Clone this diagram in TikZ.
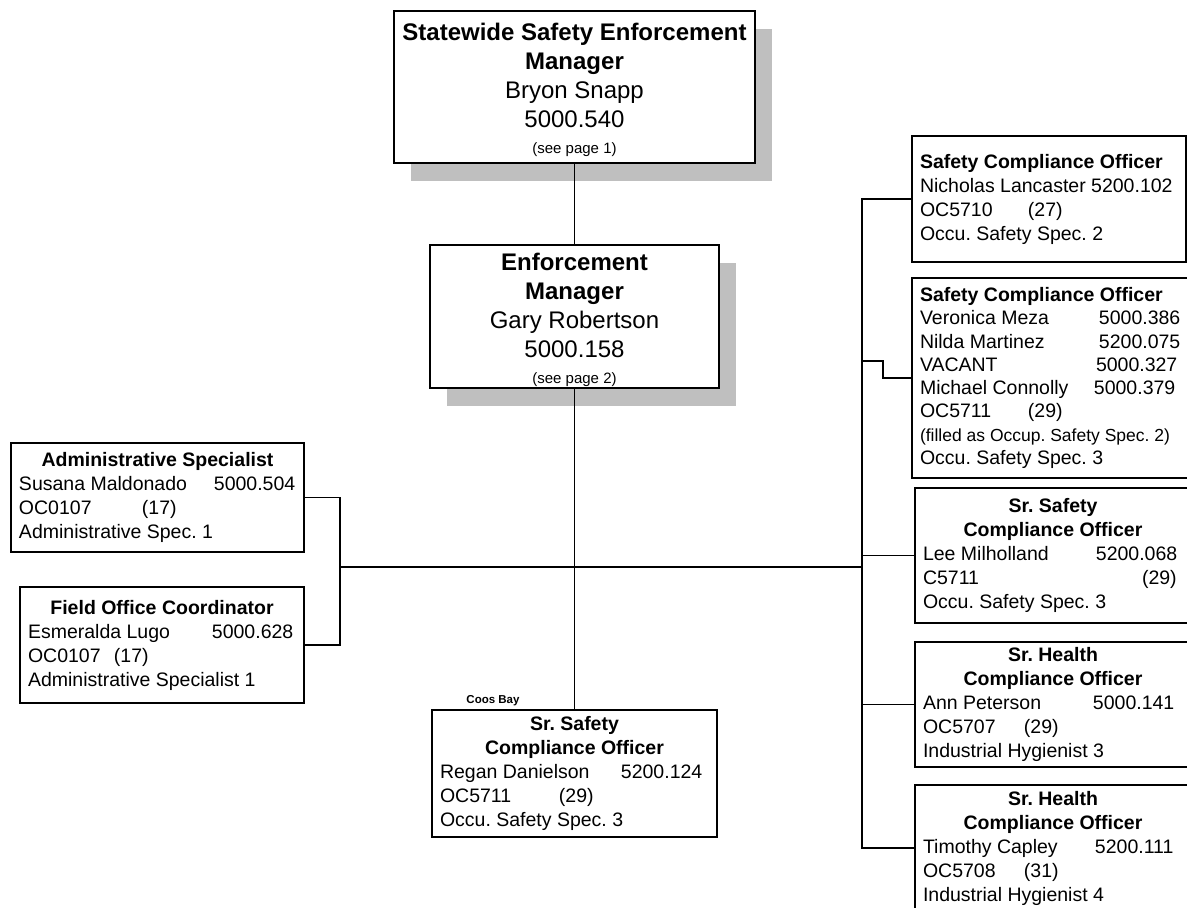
\documentclass[tikz,border=0pt]{standalone}
\usepackage{fontspec}
\setmainfont{Liberation Sans}
\usetikzlibrary{shadows}

\newcommand{\lcol}[2]{\makebox[#1pt][l]{#2}}
\newcommand{\lrow}[1]{\makebox[\hsize][l]{#1}}

\begin{document}
\begin{tikzpicture}[x=1pt, y=-1pt, line width=1.6pt]

    %--- Page frame
    \useasboundingbox (0,0) rectangle (1187,908);
    \clip (0,0) rectangle (1187,908);

    %--- Base styles for all boxes:
    \tikzstyle{post box}=[draw, line width=2pt, fill=white, anchor=north west, inner xsep=8pt, inner ysep=0pt, align=flush center, font=\frenchspacing\fontsize{19.5}{24}\selectfont]
    \tikzstyle{head box}=[post box, inner xsep=3pt, font=\frenchspacing\fontsize{24}{29}\selectfont, general shadow={fill=black!25, shadow xshift=17pt, shadow yshift=-18pt}]

    %--- Managers
    \node[head box, text width=355pt, minimum height=152pt] (SSEM) at (393,10)
        {\rule{0pt}{23.5pt}\textbf{Statewide Safety Enforcement}\\ \textbf{Manager}\\ Bryon Snapp\\ 5000.540\\[-3pt] {\fontsize{15}{18}\selectfont (see page 1)}};
    \node[head box, text width=283pt, minimum height=143pt] (EM) at (429,244)
        {\rule{0pt}{23.5pt}\textbf{Enforcement}\\ \textbf{Manager}\\ Gary Robertson\\ 5000.158\\[-3pt] {\fontsize{15}{18}\selectfont (see page 2)}};

    %--- Left staff
    \node[post box, text width=277pt, minimum height=109pt] (AS) at (10,442)
        {\textbf{Administrative Specialist}\\ \lrow{\lcol{195}{Susana Maldonado}5000.504}\\ \lrow{\lcol{123}{OC0107}(17)}\\ \lrow{Administrative Spec. 1}};
    \node[post box, text width=268pt, minimum height=116pt] (FOC) at (19,586)
        {\textbf{Field Office Coordinator}\\ \lrow{\lcol{184}{Esmeralda Lugo}5000.628}\\ \lrow{\lcol{86}{OC0107}(17)}\\ \lrow{Administrative Specialist 1}};

    %--- Coos Bay
    \node[font=\fontsize{11.5}{13}\selectfont\bfseries] (CBlbl) at (493,701) {Coos Bay};
    \node[post box, text width=269pt, minimum height=127pt] (SSCO) at (431,709)
        {\textbf{Sr. Safety}\\ \textbf{Compliance Officer}\\ \lrow{\lcol{181}{Regan Danielson}5200.124}\\ \lrow{\lcol{119}{OC5711}(29)}\\ \lrow{Occu. Safety Spec. 3}};

    %--- Right staff
    \node[post box, align=flush left, text width=258pt, minimum height=126pt] (SCO1) at (911,135)
        {\textbf{Safety Compliance Officer}\\ Nicholas Lancaster 5200.102\\ \lcol{108}{OC5710}(27)\\ Occu. Safety Spec. 2};
    \node[post box, align=flush left, text width=263pt, minimum height=200pt, font=\frenchspacing\fontsize{19.5}{23.3}\selectfont] (SCO2) at (911,277)
        {\textbf{Safety Compliance Officer}\\ \lcol{179}{Veronica Meza}5000.386\\ \lcol{179}{Nilda Martinez}5200.075\\ \lcol{176}{VACANT}5000.327\\ \lcol{174}{Michael Connolly}5000.379\\ \lcol{108}{OC5711}(29)\\ {\fontsize{17.5}{20}\selectfont (filled as Occup. Safety Spec. 2)}\\ Occu. Safety Spec. 3};
    \node[post box, text width=260pt, minimum height=135pt] (SSCO2) at (914,487)
        {\textbf{Sr. Safety}\\ \textbf{Compliance Officer}\\ \lrow{\lcol{173}{Lee Milholland}5200.068}\\ \lrow{\lcol{219}{C5711}(29)}\\ \lrow{Occu. Safety Spec. 3}};
    \node[post box, text width=260pt, minimum height=125pt] (SHCO1) at (914,641)
        {\textbf{Sr. Health}\\ \textbf{Compliance Officer}\\ \lrow{\lcol{170}{Ann Peterson}5000.141}\\ \lrow{\lcol{101}{OC5707}(29)}\\ \lrow{Industrial Hygienist 3}};
    \node[post box, text width=260pt, minimum height=126pt] (SHCO2) at (914,784)
        {\textbf{Sr. Health}\\ \textbf{Compliance Officer}\\ \lrow{\lcol{172}{Timothy Capley}5200.111}\\ \lrow{\lcol{101}{OC5708}(31)}\\ \lrow{Industrial Hygienist 4}};

    %--- Junctions
    \coordinate (LJ) at (340,567);
    \coordinate (RJ) at (862,567);
    \coordinate (J2a) at (862,361);
    \coordinate (J2b) at (883,361);

    %--- Trunk
    \draw (SSEM.south) -- (EM.north);
    \draw (EM.south) -- (SSCO.north);
    \draw (LJ) -- (RJ);

    % Left bracket
    \draw (AS.east) -| (LJ);
    \draw (FOC.east) -| (LJ);

    % Right bracket
    \draw (SCO1.west) -| (RJ);
    \draw (SCO2.west) -| (J2b) -- (J2a);
    \draw (SSCO2.west) -| (RJ);
    \draw (SHCO1.west) -| (RJ);
    \draw (SHCO2.west) -| (RJ);

\end{tikzpicture}
\end{document}
